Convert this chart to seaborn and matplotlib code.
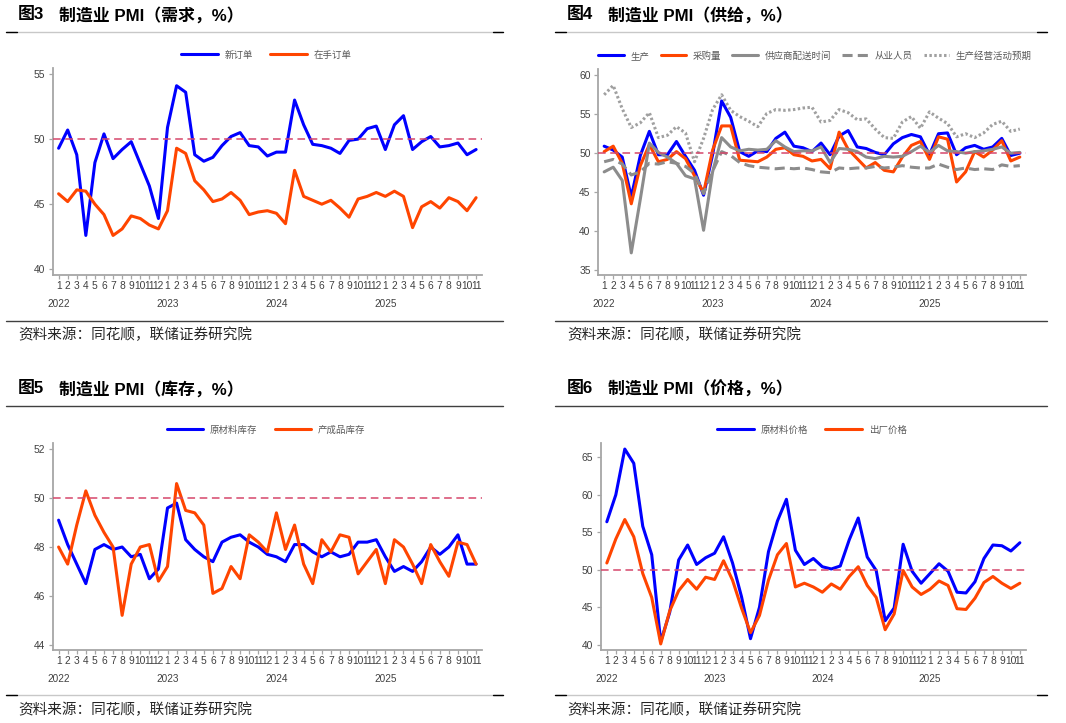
import numpy as np
import pandas as pd
import matplotlib
matplotlib.use("Agg")
import matplotlib.pyplot as plt
from matplotlib.lines import Line2D
import seaborn as sns

# Figure size in pixels
W, H = 1066, 723

# Axis categories
years = ["2022", "2023", "2024", "2025"]
year_starts = [0, 12, 24, 36]
months = [str(m) for m in range(1, 13)] * 3 + [str(m) for m in range(1, 12)]

# 图3 需求
new_orders = [49.3, 50.7, 48.8, 42.6, 48.2, 50.4, 48.5, 49.2, 49.8, 48.1, 46.4, 43.9,
              50.9, 54.1, 53.6, 48.8, 48.3, 48.6, 49.5, 50.2, 50.5, 49.5, 49.4, 48.7,
              49.0, 49.0, 53.0, 51.1, 49.6, 49.5, 49.3, 48.9, 49.9, 50.0, 50.8, 51.0,
              49.2, 51.1, 51.8, 49.2, 49.8, 50.2, 49.4, 49.5, 49.7, 48.8, 49.2]
backlog_orders = [45.8, 45.2, 46.1, 46.0, 45.0, 44.2, 42.6, 43.1, 44.1, 43.9, 43.4, 43.1,
                  44.5, 49.3, 48.9, 46.8, 46.1, 45.2, 45.4, 45.9, 45.3, 44.2, 44.4, 44.5,
                  44.3, 43.5, 47.6, 45.6, 45.3, 45.0, 45.3, 44.7, 44.0, 45.4, 45.6, 45.9,
                  45.6, 46.0, 45.6, 43.2, 44.8, 45.2, 44.7, 45.5, 45.2, 44.5, 45.5]

# 图4 供给
production = [50.9, 50.4, 49.5, 44.4, 49.7, 52.8, 49.8, 49.8, 51.5, 49.6, 47.8, 44.6,
              49.8, 56.7, 54.6, 50.2, 49.6, 50.3, 50.2, 51.9, 52.7, 50.9, 50.7, 50.2,
              51.3, 49.8, 52.2, 52.9, 50.8, 50.6, 50.1, 49.8, 51.2, 52.0, 52.4, 52.1,
              49.8, 52.5, 52.6, 49.8, 50.7, 51.0, 50.5, 50.8, 51.9, 49.7, 50.0]
purchases = [50.2, 50.9, 48.7, 43.5, 48.4, 51.1, 48.9, 49.2, 50.2, 49.3, 47.1, 44.9,
             50.4, 53.5, 53.5, 49.1, 49.0, 48.9, 49.5, 50.5, 50.7, 49.8, 49.6, 49.0,
             49.2, 48.0, 52.7, 50.5, 49.3, 48.1, 48.8, 47.8, 47.6, 49.5, 51.0, 51.5,
             49.2, 52.1, 51.8, 46.3, 47.6, 50.2, 49.5, 50.4, 51.6, 49.0, 49.5]
delivery_time = [47.6, 48.2, 46.5, 37.2, 44.1, 51.3, 50.1, 49.5, 48.7, 47.1, 46.7, 40.1,
                 47.6, 52.0, 50.8, 50.3, 50.5, 50.4, 50.5, 51.6, 50.8, 50.2, 50.3, 50.3,
                 50.8, 48.8, 50.6, 50.5, 50.2, 49.5, 49.3, 49.6, 49.5, 49.6, 50.2, 50.9,
                 50.1, 51.0, 50.3, 50.2, 50.0, 50.2, 50.3, 50.5, 50.8, 50.0, 50.1]
employment = [48.9, 49.2, 48.6, 47.2, 47.6, 48.7, 48.6, 48.9, 48.7, 48.3, 47.4, 44.8,
              47.7, 50.2, 49.7, 48.8, 48.4, 48.2, 48.1, 48.0, 48.1, 48.0, 48.1, 47.9,
              47.6, 47.5, 48.1, 48.0, 48.1, 48.1, 48.3, 48.1, 48.2, 48.4, 48.2, 48.1,
              48.1, 48.6, 48.2, 47.9, 48.1, 47.9, 48.0, 47.9, 48.5, 48.3, 48.4]
expectations = [57.5, 58.7, 55.7, 53.3, 53.9, 55.2, 52.0, 52.3, 53.4, 52.6, 48.9, 51.9,
                55.6, 57.5, 55.5, 54.7, 54.1, 53.4, 55.1, 55.6, 55.5, 55.6, 55.8, 55.9,
                54.0, 54.2, 55.6, 55.2, 54.3, 54.4, 53.1, 52.0, 51.9, 54.0, 54.7, 53.2,
                55.3, 54.5, 53.8, 52.1, 52.5, 52.0, 52.6, 53.7, 54.1, 52.8, 53.1]

# 图5 库存
raw_inventory = [49.1, 48.1, 47.3, 46.5, 47.9, 48.1, 47.9, 48.0, 47.6, 47.7, 46.7, 47.1,
                 49.6, 49.8, 48.3, 47.9, 47.6, 47.4, 48.2, 48.4, 48.5, 48.2, 48.0, 47.7,
                 47.6, 47.4, 48.1, 48.1, 47.8, 47.6, 47.8, 47.6, 47.7, 48.2, 48.2, 48.3,
                 47.6, 47.0, 47.2, 47.0, 47.4, 48.0, 47.7, 48.0, 48.5, 47.3, 47.3]
finished_inventory = [48.0, 47.3, 48.9, 50.3, 49.3, 48.6, 48.0, 45.2, 47.3, 48.0, 48.1, 46.6,
                      47.2, 50.6, 49.5, 49.4, 48.9, 46.1, 46.3, 47.2, 46.7, 48.5, 48.2, 47.8,
                      49.4, 47.9, 48.9, 47.3, 46.5, 48.3, 47.8, 48.5, 48.4, 46.9, 47.4, 47.9,
                      46.5, 48.3, 48.0, 47.3, 46.5, 48.1, 47.4, 46.8, 48.2, 48.1, 47.3]

# 图6 价格
input_price = [56.4, 60.0, 66.1, 64.2, 55.8, 52.0, 40.4, 44.3, 51.3, 53.3, 50.7, 51.6,
               52.2, 54.4, 50.9, 46.4, 40.8, 45.0, 52.4, 56.5, 59.4, 52.6, 50.7, 51.5,
               50.4, 50.1, 50.5, 54.0, 56.9, 51.7, 49.9, 43.2, 44.9, 53.4, 49.8, 48.2,
               49.5, 50.8, 49.8, 47.0, 46.9, 48.4, 51.5, 53.3, 53.2, 52.5, 53.6]
output_price = [50.9, 54.1, 56.7, 54.4, 49.5, 46.3, 40.1, 44.5, 47.2, 48.7, 47.4, 49.0,
                48.7, 51.2, 48.6, 44.9, 41.6, 43.9, 48.6, 52.0, 53.5, 47.7, 48.2, 47.7,
                47.0, 48.1, 47.4, 49.1, 50.4, 47.9, 46.3, 42.0, 44.1, 49.9, 47.7, 46.7,
                47.4, 48.5, 47.9, 44.8, 44.7, 46.2, 48.3, 49.1, 48.2, 47.5, 48.2]

BLUE = "#0000ff"
ORANGE = "#ff4500"
GRAY = "#8c8c8c"
LIGHT_GRAY = "#a0a0a0"
REF_RED = "#d6476b"

sns.set_theme(style="white")
plt.rcParams["font.family"] = ["Liberation Sans", "Noto Sans CJK SC", "DejaVu Sans"]
CJK = ["Noto Sans CJK SC", "DejaVu Sans"]

fig = plt.figure(figsize=(W / 100, H / 100), dpi=100)
fig.patch.set_facecolor("white")


def px_axes(left, top, right, bottom):
    return fig.add_axes([left / W, 1 - bottom / H, (right - left) / W, (bottom - top) / H])


def hline(x0, x1, y, color, lw=1.0):
    fig.add_artist(Line2D([x0 / W, x1 / W], [1 - y / H, 1 - y / H],
                          transform=fig.transFigure, color=color, lw=lw))


def draw_panel(ax, series, ylim, yticks, legend_xy, handlelen, colspace):
    x = np.arange(len(months))
    for values, label, color, ls in series:
        sns.lineplot(x=x, y=values, ax=ax, color=color, lw=2.2, linestyle=ls,
                     label=label, legend=False)
    ax.axhline(50, color=REF_RED, lw=1.1, ls=(0, (5, 3)), zorder=5)
    ax.set_xlim(-0.65, len(months) - 1 + 0.65)
    ax.set_ylim(*ylim)
    ax.set_yticks(yticks)
    ax.set_xticks(x)
    ax.set_xticklabels(months)
    ax.set_xlabel("")
    ax.set_ylabel("")
    for side in ["top", "right"]:
        ax.spines[side].set_visible(False)
    for side in ["left", "bottom"]:
        ax.spines[side].set_color("#a6a6a6")
        ax.spines[side].set_linewidth(1.3)
    ax.tick_params(axis="both", direction="out", length=3, width=0.9, color="#a6a6a6",
                   labelsize=7.4, labelcolor="#404040", bottom=True, left=True)
    ax.tick_params(axis="x", pad=1.2)
    ax.tick_params(axis="y", pad=2.5)
    for yr, pos in zip(years, year_starts):
        ax.annotate(yr, xy=(pos, 0), xycoords=("data", "axes fraction"),
                    xytext=(0, -21), textcoords="offset points",
                    ha="center", va="center", fontsize=7.2, color="#404040")
    handles = [Line2D([0], [0], color=c, lw=2.2, linestyle=ls) for _, _, c, ls in series]
    labels = [lab for _, lab, _, _ in series]
    leg = ax.legend(handles, labels, loc="center",
                    bbox_to_anchor=(legend_xy[0] / W, 1 - legend_xy[1] / H),
                    bbox_transform=fig.transFigure, ncol=len(series), frameon=False,
                    handlelength=handlelen, handletextpad=0.7, columnspacing=colspace,
                    prop={"family": CJK, "size": 6.8})
    for t in leg.get_texts():
        t.set_color("#595959")


def frame(x0, title_num, title_txt, title_y, top_rule_y, bottom_rule_y, src_y,
          top_dark, end):
    fig.text((x0 + 12) / W, 1 - title_y / H, title_num, ha="left", va="center",
             fontsize=12.2, fontweight="bold", color="black")
    fig.text((x0 + 53) / W, 1 - title_y / H, title_txt, ha="left", va="center",
             fontsize=12.2, fontweight="bold", color="black")
    fig.text((x0 + 12) / W, 1 - src_y / H, "资料来源：同花顺，联储证券研究院",
             ha="left", va="center", fontsize=10.5, color="#262626", family=CJK)
    if top_dark:
        hline(x0, end, top_rule_y, "#404040", 1.0)
        hline(x0, end, bottom_rule_y, "#c8c8c8", 1.0)
        hline(x0, x0 + 11, bottom_rule_y, "black", 1.0)
        hline(end - 10, end, bottom_rule_y, "black", 1.0)
    else:
        hline(x0, end, top_rule_y, "#c8c8c8", 1.0)
        hline(x0, x0 + 11, top_rule_y, "black", 1.0)
        hline(end - 10, end, top_rule_y, "black", 1.0)
        hline(x0, end, bottom_rule_y, "#404040", 1.0)


# 图3 需求
ax1 = px_axes(52.7, 68.3, 482, 275)
draw_panel(ax1, [(new_orders, "新订单", BLUE, "-"),
                 (backlog_orders, "在手订单", ORANGE, "-")],
           (39.56, 55.44), [40, 45, 50, 55], (266, 55), 3.9, 1.8)
frame(6, "图3", "制造业 PMI（需求，%）", 15, 31.7, 321, 335, False, 503)

# 图4 供给
ax2 = px_axes(598.3, 69.3, 1025.7, 275.3)
draw_panel(ax2, [(production, "生产", BLUE, "-"),
                 (purchases, "采购量", ORANGE, "-"),
                 (delivery_time, "供应商配送时间", GRAY, "-"),
                 (employment, "从业人员", GRAY, (0, (3.3, 1.7))),
                 (expectations, "生产经营活动预期", LIGHT_GRAY, (0, (0.8, 0.8)))],
           (34.32, 60.77), [35, 40, 45, 50, 55, 60], (815, 56), 2.7, 1.2)
frame(555, "图4", "制造业 PMI（供给，%）", 15, 31.7, 321, 335, False, 1047)

# 图5 库存
ax3 = px_axes(52.7, 443.3, 482, 650)
draw_panel(ax3, [(raw_inventory, "原材料库存", BLUE, "-"),
                 (finished_inventory, "产成品库存", ORANGE, "-")],
           (43.78, 52.25), [44, 46, 48, 50, 52], (266, 430), 3.9, 1.8)
frame(6, "图5", "制造业 PMI（库存，%）", 389, 406, 695.3, 710, True, 503)

# 图6 价格
ax4 = px_axes(601, 442.7, 1025.7, 650)
draw_panel(ax4, [(input_price, "原材料价格", BLUE, "-"),
                 (output_price, "出厂价格", ORANGE, "-")],
           (39.29, 66.95), [40, 45, 50, 55, 60, 65], (812, 430), 3.9, 1.8)
frame(555, "图6", "制造业 PMI（价格，%）", 389, 406, 695.3, 710, True, 1047)

fig.savefig("out.png", dpi=100, facecolor="white")
